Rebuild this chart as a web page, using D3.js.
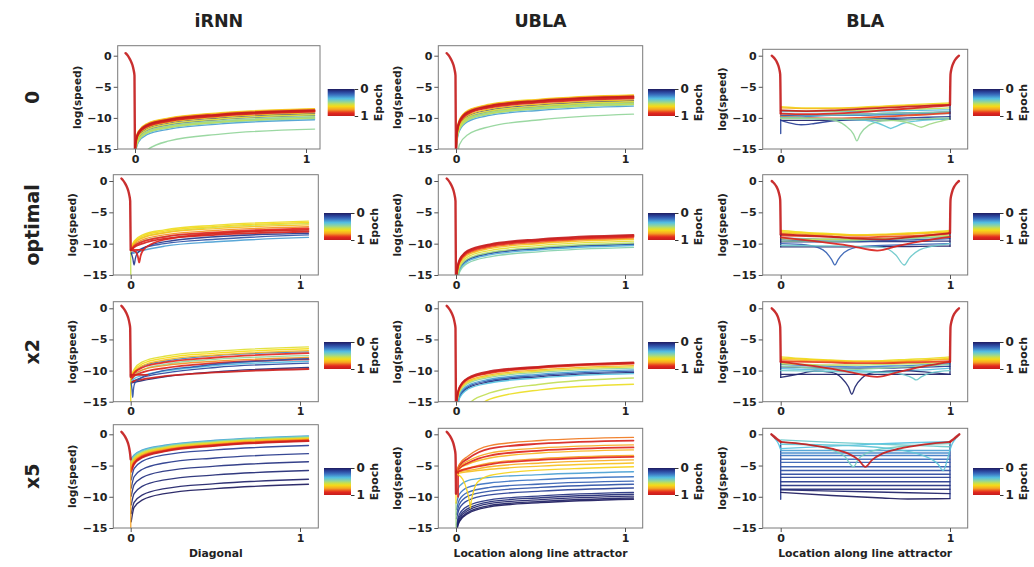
<!DOCTYPE html>
<html><head><meta charset="utf-8">
<script src="https://cdn.jsdelivr.net/npm/d3@7"></script>
<style>
body{margin:0;background:#fff}
text{font-family:"DejaVu Sans",Verdana,sans-serif;font-weight:bold;fill:#222}
</style>
</head><body><svg id="c" width="1034" height="567"></svg>
<script>
// ---------------- labels ----------------
const colTitles = ["iRNN", "UBLA", "BLA"];
const rowLabels = ["0", "optimal", "x2", "x5"];
const xTitles = ["Diagonal", "Location along line attractor", "Location along line attractor"];
const yTitle = "log(speed)";
const xTickVals = [0, 1];
const yTickVals = [0, -5, -10, -15];
const cbTickVals = [0, 1];
const cbTitle = "Epoch";

// colormap (epoch 0 -> 1)
const cmapPos = [0, 0.1, 0.22, 0.36, 0.48, 0.56, 0.64, 0.76, 0.88, 1];
const cmapCol = ["#1d1b5e", "#283f96", "#3b72c2", "#55c2e2", "#93d59a", "#c9df4c", "#f6dc17", "#f6a323", "#e5281e", "#c41d1d"];

// ---------------- data ----------------
// x grid for rising curves (iRNN, UBLA); null = not drawn
const riseX = [0.0005, 0.003, 0.02, 0.07, 0.2, 0.5, 1.05];
// x grid for BLA curves
const blaX = [0, 0.15, 0.3, 0.45, 0.6, 0.75, 0.9, 1];

// shared heads (fast flow to the attractor)
const riseHead = [[-0.055, 0.4], [-0.045, 0.1], [-0.035, -0.3], [-0.025, -0.8], [-0.015, -1.5], [-0.008, -2.3], [-0.003, -3.2]];
const blaHead = [[-0.053, 0], [-0.045, -0.2], [-0.035, -0.5], [-0.025, -0.9], [-0.015, -1.5], [-0.008, -2.2], [-0.003, -3.0]];
const blaHeadX5 = [[-0.055, 0], [-0.04, -0.35], [-0.025, -0.7], [-0.01, -1.0]];
const headEpoch = 1.0;

// ---- iRNN, 0
const irnn0 = [
  [0.48, null, null, -17, -15.2, -13.7, -12.6, -11.8],
  [0.10, -17, -14.6, -12.9, -11.7, -10.8, -9.97, -9.3],
  [0.20, -17, -14.9, -13.2, -12.0, -11.1, -10.27, -9.6],
  [0.30, -17, -15.6, -13.9, -12.7, -11.8, -10.97, -10.3],
  [0.38, -17, -15.2, -13.5, -12.3, -11.4, -10.57, -9.9],
  [0.45, -17, -15.4, -13.7, -12.5, -11.6, -10.77, -10.1],
  [0.50, -17, -15.1, -13.4, -12.2, -11.3, -10.47, -9.8],
  [0.55, -17, -15.3, -13.6, -12.4, -11.5, -10.67, -10.0],
  [0.60, -17, -14.8, -13.1, -11.9, -11.0, -10.17, -9.5],
  [0.65, -17, -13.8, -12.1, -10.9, -10.0, -9.17, -8.5],
  [0.70, -17, -14.5, -12.8, -11.6, -10.7, -9.87, -9.2],
  [0.76, -17, -13.9, -12.2, -11.0, -10.1, -9.27, -8.6],
  [0.84, -17, -14.1, -12.4, -11.2, -10.3, -9.47, -8.8],
  [0.90, -17, -14.2, -12.5, -11.3, -10.4, -9.57, -8.9],
  [0.95, -17, -14.3, -12.6, -11.4, -10.5, -9.67, -9.0],
  [1.00, -17, -14.05, -12.35, -11.15, -10.25, -9.42, -8.75]
];
const irnn0Extra = [];

// ---- UBLA, 0
const ubla0 = [
  [0.48, null, -18, -14.3, -12.7, -11.4, -10.3, -9.4],
  [0.10, -17, -13.5, -11.2, -9.7, -8.7, -7.87, -7.2],
  [0.20, -17, -13.8, -11.5, -10.0, -9.0, -8.17, -7.5],
  [0.30, -17, -14.4, -12.1, -10.6, -9.6, -8.77, -8.1],
  [0.38, -17, -14.0, -11.7, -10.2, -9.2, -8.37, -7.7],
  [0.45, -17, -14.2, -11.9, -10.4, -9.4, -8.57, -7.9],
  [0.50, -17, -13.9, -11.6, -10.1, -9.1, -8.27, -7.6],
  [0.55, -17, -14.1, -11.8, -10.3, -9.3, -8.47, -7.8],
  [0.60, -17, -13.7, -11.4, -9.9, -8.9, -8.07, -7.4],
  [0.65, -17, -12.6, -10.3, -8.8, -7.8, -6.97, -6.3],
  [0.70, -17, -13.4, -11.1, -9.6, -8.6, -7.77, -7.1],
  [0.76, -17, -12.7, -10.4, -8.9, -7.9, -7.07, -6.4],
  [0.84, -17, -12.9, -10.6, -9.1, -8.1, -7.27, -6.6],
  [0.90, -17, -13.0, -10.7, -9.2, -8.2, -7.37, -6.7],
  [0.95, -17, -13.15, -10.85, -9.35, -8.35, -7.52, -6.85],
  [1.00, -17, -12.85, -10.55, -9.05, -8.05, -7.22, -6.55]
];
const ubla0Extra = [];

// ---- BLA, 0
const bla0 = [
  [0.02, -10.4, -10.4, -10.35, -10.3, -10.3, -10.25, -10.2, -10.2],
  [0.15, -9.6, -9.6, -9.5, -9.4, -9.3, -9.2, -9.1, -9.0],
  [0.25, -9.9, -9.8, -9.6, -9.6, -9.5, -9.4, -9.3, -9.3],
  [0.35, -9.0, -9.0, -9.0, -8.95, -8.9, -8.8, -8.75, -8.7],
  [0.45, -9.4, -9.5, -9.5, -9.4, -9.3, -9.2, -9.1, -9.0],
  [0.55, -8.8, -8.9, -8.9, -8.8, -8.7, -8.6, -8.5, -8.4],
  [0.63, -8.2, -8.4, -8.4, -8.3, -8.1, -7.9, -7.7, -7.6],
  [0.72, -8.4, -8.5, -8.5, -8.4, -8.2, -8.0, -7.9, -7.8],
  [0.85, -9.8, -10.0, -10.1, -10.0, -9.8, -9.6, -9.4, -9.2],
  [0.92, -9.3, -9.4, -9.3, -9.1, -8.8, -8.5, -8.2, -8.0],
  [1.00, -8.8, -8.9, -8.8, -8.6, -8.4, -8.2, -8.0, -7.9]
];
const bla0Extra = [
  [0.12, [[0, -10], [0, -12.5]]],
  [0.10, [[0, -10.4], [0.05, -10.8], [0.12, -11.1], [0.2, -10.9], [0.3, -10.5], [0.5, -10.2], [0.75, -10.0], [1, -9.8]]],
  [0.48, [[0, -9.9], [0.15, -10.0], [0.3, -10.3], [0.38, -11.2], [0.43, -12.6], [0.45, -13.7], [0.47, -12.6], [0.52, -11.2], [0.6, -10.5], [0.75, -10.3], [0.9, -10.1], [1, -10.0]]],
  [0.38, [[0, -10.0], [0.3, -10.2], [0.5, -10.4], [0.58, -10.9], [0.63, -11.5], [0.65, -11.7], [0.67, -11.5], [0.72, -10.9], [0.8, -10.5], [1, -10.2]]],
  [0.50, [[0, -10.1], [0.5, -10.2], [0.7, -10.5], [0.78, -11.0], [0.83, -11.5], [0.88, -11.0], [0.95, -10.5], [1, -10.2]]],
  [0.02, [[1, -7.9], [1, -10.2]]]
];

// ---- iRNN, optimal
const irnnOpt = [
  [0.15, null, -11.4, -11.3, -10.7, -10.0, -9.3, -8.6],
  [0.30, null, -11.6, -11.5, -11.1, -10.4, -9.7, -9.0],
  [0.45, null, -11.0, -10.4, -9.6, -8.9, -8.3, -7.8],
  [0.56, null, -10.8, -9.9, -9.0, -8.2, -7.4, -6.8],
  [0.62, null, -10.6, -9.6, -8.6, -7.8, -7.05, -6.4],
  [0.65, null, -10.7, -9.8, -8.8, -8.0, -7.25, -6.6],
  [0.70, null, -10.8, -10.0, -9.1, -8.3, -7.6, -7.0],
  [0.78, null, -10.9, -10.2, -9.4, -8.6, -7.9, -7.3],
  [0.88, null, -11.0, -10.4, -9.7, -8.9, -8.2, -7.55],
  [0.95, null, -11.1, -10.6, -10.0, -9.2, -8.6, -8.1]
];
const irnnOptExtra = [
  [0.55, [[0, -11], [0.0005, -17]]],
  [0.08, [[0.003, -11.5], [0.012, -12.3], [0.02, -13.4], [0.028, -12.3], [0.04, -11.5], [0.1, -10.4], [0.25, -9.5], [0.5, -8.9], [1.05, -8.35]]],
  [0.90, [[0, -11.0], [0.07, -11.0]]],
  [0.92, [[0.002, -11.0], [0.03, -11.3], [0.042, -12.0], [0.05, -13.0], [0.058, -12.0], [0.075, -11.0], [0.12, -10.1], [0.25, -9.1], [0.5, -8.4], [1.05, -7.8]]]
];

// ---- UBLA, optimal
const ublaOpt = [
  [0.08, -17, -16.4, -14.1, -12.6, -11.6, -10.77, -10.1],
  [0.20, -17, -16.3, -14.0, -12.5, -11.5, -10.67, -10.0],
  [0.32, -17, -16.6, -14.3, -12.8, -11.8, -10.97, -10.3],
  [0.45, -17, -16.9, -14.6, -13.1, -12.1, -11.27, -10.6],
  [0.52, -17, -16.2, -13.9, -12.4, -11.4, -10.57, -9.9],
  [0.60, -17, -15.9, -13.6, -12.1, -11.1, -10.27, -9.6],
  [0.70, -17, -15.6, -13.3, -11.8, -10.8, -9.97, -9.3],
  [0.80, -17, -15.4, -13.1, -11.6, -10.6, -9.77, -9.1],
  [0.88, -17, -15.2, -12.9, -11.4, -10.4, -9.57, -8.9],
  [0.94, -17, -15.05, -12.75, -11.25, -10.25, -9.42, -8.75],
  [1.00, -17, -14.9, -12.6, -11.1, -10.1, -9.27, -8.6]
];
const ublaOptExtra = [];

// ---- BLA, optimal
const blaOpt = [
  [0.02, -10.5, -10.5, -10.5, -10.5, -10.45, -10.45, -10.4, -10.4],
  [0.06, -9.7, -9.7, -9.7, -9.7, -9.65, -9.65, -9.6, -9.6],
  [0.15, -9.4, -9.5, -9.6, -9.6, -9.5, -9.4, -9.3, -9.2],
  [0.28, -9.1, -9.2, -9.3, -9.3, -9.2, -9.1, -9.0, -8.9],
  [0.48, -9.6, -9.6, -9.6, -9.5, -9.3, -9.2, -9.0, -8.9],
  [0.55, -9.2, -9.3, -9.3, -9.3, -9.2, -9.0, -8.8, -8.7],
  [0.62, -7.9, -8.2, -8.4, -8.6, -8.5, -8.3, -8.1, -7.9],
  [0.65, -8.1, -8.3, -8.5, -8.6, -8.6, -8.4, -8.2, -8.1],
  [0.72, -8.3, -8.5, -8.6, -8.7, -8.6, -8.5, -8.3, -8.2],
  [0.85, -8.7, -8.8, -8.9, -9.0, -8.9, -8.8, -8.6, -8.4],
  [1.00, -8.5, -8.7, -8.9, -9.2, -9.3, -9.0, -8.6, -8.3]
];
const blaOptExtra = [
  [0.02, [[0, -8.5], [0, -10.5]]],
  [0.02, [[1, -8.3], [1, -10.4]]],
  [0.18, [[0, -10.0], [0.15, -10.2], [0.25, -11.0], [0.3, -12.5], [0.32, -13.4], [0.34, -12.5], [0.4, -11.0], [0.5, -10.4], [0.7, -10.2], [1, -10.0]]],
  [0.40, [[0, -10.3], [0.4, -10.4], [0.6, -10.6], [0.68, -11.8], [0.73, -13.4], [0.76, -12.3], [0.82, -11.0], [0.9, -10.4], [1, -10.0]]],
  [0.92, [[0, -9.0], [0.2, -9.6], [0.4, -10.3], [0.57, -11.1], [0.7, -10.3], [0.85, -9.5], [1, -8.9]]]
];

// ---- iRNN, x2
const irnnX2 = [
  [0.05, null, -12.0, -11.9, -11.6, -11.0, -10.2, -9.5],
  [0.12, null, -11.8, -11.6, -11.1, -10.4, -9.5, -8.8],
  [0.25, null, -11.5, -10.5, -9.3, -8.5, -7.6, -7.0],
  [0.35, null, -11.7, -11.3, -10.8, -10.1, -9.2, -8.5],
  [0.48, null, -11.3, -10.8, -9.9, -9.0, -8.2, -7.6],
  [0.60, null, -10.8, -9.8, -8.6, -7.7, -6.9, -6.2],
  [0.64, null, -10.9, -10.0, -8.9, -8.0, -7.2, -6.5],
  [0.72, null, -11.0, -10.2, -9.2, -8.3, -7.5, -6.8],
  [0.78, null, -11.2, -10.6, -9.9, -9.2, -8.5, -7.9],
  [0.88, null, -11.1, -10.4, -9.5, -8.7, -7.9, -7.2],
  [0.92, null, -11.4, -10.9, -10.3, -9.6, -8.8, -8.2],
  [0.97, null, -11.9, -11.7, -11.4, -10.9, -10.3, -9.75]
];
const irnnX2Extra = [
  [0.63, [[0, -11], [0.0005, -17]]],
  [0.15, [[0.003, -12], [0.008, -13.1], [0.012, -14.3], [0.016, -13.1], [0.025, -12], [0.06, -11.2], [0.15, -10.3], [0.4, -9.3], [1.05, -8.1]]],
  [0.95, [[0, -10.7], [0.1, -10.7]]]
];

// ---- UBLA, x2
const ublaX2 = [
  [0.55, null, null, -18, -15.5, -13.6, -12.2, -11.2],
  [0.62, null, null, null, -17, -14.6, -13.1, -12.2],
  [0.05, -17, -16.6, -14.3, -12.8, -11.8, -10.97, -10.3],
  [0.15, -17, -16.4, -14.1, -12.6, -11.6, -10.77, -10.1],
  [0.30, -17, -16.2, -13.9, -12.4, -11.4, -10.57, -9.9],
  [0.36, -17, -16.8, -14.5, -13.0, -12.0, -11.17, -10.5],
  [0.48, -17, -15.9, -13.6, -12.1, -11.1, -10.27, -9.6],
  [0.60, -17, -15.7, -13.4, -11.9, -10.9, -10.07, -9.4],
  [0.72, -17, -15.5, -13.2, -11.7, -10.7, -9.87, -9.2],
  [0.85, -17, -15.2, -12.9, -11.4, -10.4, -9.57, -8.9],
  [0.93, -17, -15.1, -12.8, -11.3, -10.3, -9.47, -8.8],
  [1.00, -17, -15.0, -12.7, -11.2, -10.1, -9.37, -8.7]
];
const ublaX2Extra = [];

// ---- BLA, x2
const blaX2 = [
  [0.02, -10.6, -10.6, -10.6, -10.6, -10.6, -10.6, -10.6, -10.6],
  [0.10, -9.4, -9.5, -9.6, -9.6, -9.6, -9.5, -9.4, -9.3],
  [0.25, -9.0, -9.2, -9.3, -9.4, -9.3, -9.2, -9.0, -8.9],
  [0.35, -9.7, -9.8, -9.9, -10.0, -10.2, -10.0, -9.8, -9.6],
  [0.47, -9.3, -9.5, -9.7, -9.8, -9.6, -9.4, -9.2, -9.0],
  [0.55, -8.9, -9.0, -9.1, -9.1, -9.0, -8.9, -8.8, -8.6],
  [0.62, -7.8, -8.1, -8.3, -8.5, -8.4, -8.2, -8.0, -7.8],
  [0.66, -8.0, -8.2, -8.4, -8.5, -8.5, -8.4, -8.2, -8.0],
  [0.74, -8.2, -8.4, -8.5, -8.6, -8.6, -8.5, -8.3, -8.2],
  [0.86, -8.5, -8.6, -8.7, -8.8, -8.8, -8.7, -8.6, -8.5]
];
const blaX2Extra = [
  [0.03, [[0, -8.6], [0, -11.1]]],
  [0.03, [[1, -8.6], [1, -10.6]]],
  [0.03, [[0, -11.1], [0.1, -10.6], [0.2, -10.1], [0.3, -10.3], [0.36, -11.2], [0.4, -12.6], [0.42, -13.8], [0.44, -12.6], [0.48, -11.2], [0.55, -10.3], [0.7, -10.0], [0.85, -10.2], [1, -10.6]]],
  [0.40, [[0, -10.0], [0.4, -10.2], [0.65, -10.3], [0.73, -10.7], [0.78, -11.2], [0.8, -11.5], [0.83, -11.0], [0.9, -10.3], [1, -10.0]]],
  [0.95, [[0, -8.6], [0.2, -9.3], [0.4, -10.2], [0.57, -11.0], [0.7, -10.2], [0.85, -9.3], [1, -8.6]]]
];

// ---- iRNN, x5
const irnnX5 = [
  [0.00, null, -14.0, -11.7, -10.5, -9.5, -8.7, -8.0],
  [0.02, null, -12.7, -10.9, -9.7, -8.7, -7.9, -7.2],
  [0.04, null, -11.3, -9.5, -8.3, -7.3, -6.5, -5.8],
  [0.06, null, -9.9, -8.1, -6.9, -5.9, -5.1, -4.4],
  [0.08, null, -8.6, -6.8, -5.6, -4.6, -3.8, -3.1],
  [0.10, null, -7.3, -5.5, -4.3, -3.3, -2.5, -1.8],
  [0.30, null, -3.9, -3.3, -2.5, -1.75, -0.95, -0.25],
  [0.38, null, -4.13, -3.47, -2.63, -1.86, -1.05, -0.34],
  [0.46, null, -4.37, -3.63, -2.77, -1.97, -1.15, -0.44],
  [0.54, null, -4.6, -3.8, -2.9, -2.08, -1.25, -0.53],
  [0.61, null, -4.83, -3.97, -3.03, -2.19, -1.35, -0.63],
  [0.68, null, -5.07, -4.13, -3.17, -2.31, -1.45, -0.72],
  [0.75, null, -5.3, -4.3, -3.3, -2.42, -1.55, -0.82],
  [0.82, null, -5.53, -4.47, -3.43, -2.53, -1.65, -0.91],
  [0.90, null, -5.77, -4.63, -3.57, -2.64, -1.75, -1.01],
  [0.97, null, -6.0, -4.8, -3.7, -2.75, -1.85, -1.1]
];
const irnnX5Extra = [
  [0.76, [[0, -4], [0.0005, -17]]]
];

// ---- UBLA, x5
const ublaX5 = [
  [0.00, -17, -15.8, -14.0, -12.7, -11.6, -10.95, -10.4],
  [0.01, -17, -15.6, -13.8, -12.5, -11.4, -10.75, -10.2],
  [0.02, -17, -15.3, -13.5, -12.2, -11.1, -10.45, -9.9],
  [0.04, -17, -15.0, -13.2, -11.9, -10.8, -10.15, -9.6],
  [0.06, null, -14.5, -12.8, -11.5, -10.5, -9.85, -9.3],
  [0.10, null, -13.5, -11.9, -10.6, -9.7, -9.1, -8.6],
  [0.14, null, -12.8, -11.2, -9.9, -9.1, -8.5, -8.0],
  [0.18, null, -12.0, -10.5, -9.3, -8.5, -7.95, -7.5],
  [0.22, null, -11.0, -9.6, -8.5, -7.8, -7.25, -6.8],
  [0.30, null, -9.5, -8.3, -7.4, -6.9, -6.45, -6.0],
  [0.70, null, -6.3, -6.2, -6.0, -5.6, -5.1, -4.6],
  [0.74, null, -6.2, -6.0, -5.8, -5.2, -4.6, -4.1],
  [0.76, null, -6.1, -5.8, -5.4, -4.6, -3.9, -3.4],
  [0.90, null, -6.1, -5.9, -5.5, -4.8, -4.1, -3.6],
  [0.72, null, -6.0, -5.5, -4.8, -3.8, -3.0, -2.5],
  [0.90, null, -6.0, -5.4, -4.6, -3.4, -2.6, -2.1],
  [0.75, null, -6.0, -5.2, -4.3, -3.0, -2.2, -1.7],
  [0.93, null, -6.0, -5.0, -3.9, -2.3, -1.5, -1.0],
  [0.80, null, -6.0, -4.8, -3.5, -1.8, -1.0, -0.5]
];
const ublaX5Extra = [
  [0.50, [[0, -11], [0.0005, -17]]],
  [0.64, [[0, -9.5], [0, -11]]],
  [0.92, [[0.012, -6], [0.012, -10]]],
  [0.66, [[0.01, -6.4], [0.04, -7.2], [0.065, -9.0], [0.08, -10.8], [0.085, -11.8], [0.09, -10.8], [0.105, -9.0], [0.13, -7.6], [0.2, -6.6], [0.4, -5.9], [0.7, -5.5], [1.05, -5.2]]]
];

// ---- BLA, x5
const blaX5 = [];
const blaX5Extra = [
  [0.08, [[0, -1.2], [0, -10.4]]],
  [0.08, [[1, -1.2], [1, -10.2]]],
  [0.00, [[0, -9.3], [0.3, -9.8], [0.6, -10.2], [0.75, -10.35], [1, -10.3]]],
  [0.02, [[0, -8.9], [0.5, -9.2], [1, -9.5]]],
  [0.04, [[0, -8.8], [1, -8.8]]],
  [0.06, [[0, -8.2], [1, -8.2]]],
  [0.08, [[0, -7.6], [1, -7.6]]],
  [0.10, [[0, -6.9], [1, -6.9]]],
  [0.12, [[0, -6.4], [1, -6.4]]],
  [0.14, [[0, -5.8], [1, -5.8]]],
  [0.16, [[0, -5.2], [1, -5.2]]],
  [0.18, [[0, -4.5], [1, -4.5]]],
  [0.20, [[0, -4.0], [1, -4.0]]],
  [0.23, [[0, -3.4], [1, -3.4]]],
  [0.26, [[0, -3.0], [1, -3.0]]],
  [0.30, [[0, -2.6], [1, -2.6]]],
  [0.36, [[-0.055, 0], [-0.03, -0.8], [-0.01, -1.7], [0, -2.5]]],
  [0.36, [[1, -2.5], [1.01, -1.7], [1.03, -0.8], [1.055, 0]]],
  [0.40, [[0, -0.9], [0.3, -1.3], [0.6, -1.6], [0.9, -1.9], [1, -2.0]]],
  [0.36, [[0, -2.3], [0.3, -1.9], [0.6, -1.5], [1, -1.2]]],
  [0.42, [[0, -1.3], [0.2, -1.8], [0.3, -2.5], [0.38, -3.6], [0.43, -5.2], [0.46, -3.9], [0.55, -2.6], [0.7, -2.0], [1, -1.5]]],
  [0.38, [[0, -1.6], [0.4, -1.8], [0.7, -2.5], [0.85, -3.5], [0.93, -4.8], [0.96, -5.8], [0.98, -4.5], [1, -2.5]]],
  [1.00, [[0, -1.2], [0.15, -1.6], [0.3, -2.3], [0.4, -3.1], [0.46, -4.1], [0.5, -5.2], [0.54, -4.1], [0.6, -3.1], [0.7, -2.3], [0.85, -1.6], [1, -1.2]]]
];

// head bottoms (where the fast part meets the slow manifold)
const riseHeadBottom = [[-17, -17], [-11, -17], [-11, -17], [-4, -9.5]]; // [row][iRNN, UBLA]
const blaHeadBottom = [[-9.3, -7.9], [-8.5, -8.3], [-8.6, -8.6], [-1.2, -1.2]]; // [row][left, right]

const panelCurves = [
  [irnn0, ubla0, bla0],
  [irnnOpt, ublaOpt, blaOpt],
  [irnnX2, ublaX2, blaX2],
  [irnnX5, ublaX5, blaX5]
];
const panelExtras = [
  [irnn0Extra, ubla0Extra, bla0Extra],
  [irnnOptExtra, ublaOptExtra, blaOptExtra],
  [irnnX2Extra, ublaX2Extra, blaX2Extra],
  [irnnX5Extra, ublaX5Extra, blaX5Extra]
];

// ---------------- layout ----------------
const boxL = [[117.7, 113.3, 113.3, 113.3], [438.3, 438.3, 438.3, 438.3], [762.7, 762.7, 762.7, 762.7]];
const boxR = [[320, 318.3, 318.3, 318.3], [642.7, 642.7, 642.7, 642.7], [967.7, 967.7, 967.7, 967.7]];
const x0Pos = [[135, 130.7, 130.7, 130.7], [456, 456, 456, 456], [780.7, 780.7, 780.7, 780.7]];
const x1Pos = [[306, 300, 300, 300], [625, 625, 625, 625], [950, 950, 950, 950]];
const boxT = [[45.7, 174.7, 301.7, 424.7], [45.7, 174.7, 301.7, 428.3], [49.3, 174.7, 301.7, 428.3]];
const boxB = [149, 275, 401.7, 528];
const zeroY = [55.7, 181, 308.3, 434.3];
const cbX = [[327.7, 324, 324, 324], [648, 648, 648, 648], [973, 973, 973, 973]];
const cbY = [89, 213, 342, 468];
const cbW = 27, cbH = 27;

// ---------------- drawing ----------------
const svg = d3.select("#c");
const defs = svg.append("defs");
const cmap = d3.scaleLinear().domain(cmapPos).range(cmapCol).interpolate(d3.interpolateRgb).clamp(true);

const grad = defs.append("linearGradient").attr("id", "cbgrad").attr("x1", 0).attr("x2", 0).attr("y1", 0).attr("y2", 1);
d3.range(0, 1.0001, 0.05).forEach(t => grad.append("stop").attr("offset", t).attr("stop-color", cmap(t)));

const fmt = v => v < 0 ? "\u2212" + (-v) : String(v);

for (let r = 0; r < 4; r++) {
  for (let c = 0; c < 3; c++) {
    const L = boxL[c][r], R = boxR[c][r], T = boxT[c][r], B = boxB[r];
    const x = d3.scaleLinear().domain([0, 1]).range([x0Pos[c][r], x1Pos[c][r]]);
    const y = d3.scaleLinear().domain([-15, 0]).range([B, zeroY[r]]);
    const g = svg.append("g");
    const clipId = "clip" + r + c;
    defs.append("clipPath").attr("id", clipId).append("rect")
      .attr("x", L).attr("y", T).attr("width", R - L).attr("height", B - T);
    const lg = g.append("g").attr("clip-path", "url(#" + clipId + ")");
    const lineM = d3.line().x(d => x(d[0])).y(d => y(d[1])).curve(d3.curveMonotoneX);
    const lineL = d3.line().x(d => x(d[0])).y(d => y(d[1]));
    const draw = (pts, e, w) => {
      const inc = pts.every((d, i) => i === 0 || d[0] > pts[i - 1][0]);
      lg.append("path").attr("d", (inc && pts.length > 2 ? lineM : lineL)(pts))
        .attr("fill", "none").attr("stroke", cmap(e)).attr("stroke-width", w)
        .attr("stroke-linejoin", "round").attr("stroke-linecap", "round").attr("stroke-opacity", 0.92);
    };
    const grid = c < 2 ? riseX : blaX;
    panelCurves[r][c].forEach(row => {
      const e = row[0];
      const pts = row.slice(1).map((v, i) => [grid[i], v]).filter(d => d[1] !== null);
      draw(pts, e, e >= 0.85 ? 1.8 : 1.35);
    });
    panelExtras[r][c].forEach(([e, pts]) => draw(pts, e, e >= 0.85 ? 1.8 : 1.35));
    // heads
    if (c < 2) {
      const bot = riseHeadBottom[r][c];
      draw(riseHead.concat([[0, bot]]), headEpoch, 2.4);
    } else {
      const hs = r === 3 ? blaHeadX5 : blaHead;
      const [bl, br] = blaHeadBottom[r];
      draw(hs.concat([[0, bl]]), headEpoch, 2.4);
      const right = [[1, br]].concat(hs.map(d => [1 - d[0], d[1]]).reverse());
      draw(right, headEpoch, 2.4);
    }
    // frame
    g.append("rect").attr("x", L).attr("y", T).attr("width", R - L).attr("height", B - T)
      .attr("fill", "none").attr("stroke", "#7a7a7a").attr("stroke-width", 1);
    // axes
    const ya = g.append("g").attr("transform", `translate(${L},0)`)
      .call(d3.axisLeft(y).tickValues(yTickVals).tickSize(4).tickPadding(2).tickFormat(fmt));
    const xa = g.append("g").attr("transform", `translate(0,${B})`)
      .call(d3.axisBottom(x).tickValues(xTickVals).tickSize(4).tickPadding(2).tickFormat(fmt));
    [ya, xa].forEach(a => {
      a.select(".domain").remove();
      a.selectAll("line").attr("stroke", "#555");
      a.selectAll("text").attr("font-size", 11).attr("font-family", null).attr("fill", "#222");
    });
    // y title
    g.append("text").attr("transform", `translate(${L - 37},${(T + B) / 2}) rotate(-90)`)
      .attr("text-anchor", "middle").attr("font-size", 10.5).text(yTitle);
    // colorbar
    const cx = cbX[c][r], cy = cbY[r];
    g.append("rect").attr("x", cx).attr("y", cy).attr("width", cbW).attr("height", cbH).attr("fill", "url(#cbgrad)");
    const cbs = d3.scaleLinear().domain([0, 1]).range([cy, cy + cbH]);
    const ca = g.append("g").attr("transform", `translate(${cx + cbW},0)`)
      .call(d3.axisRight(cbs).tickValues(cbTickVals).tickSize(3.5).tickPadding(2).tickFormat(fmt));
    ca.select(".domain").remove();
    ca.selectAll("line").attr("stroke", "#333");
    ca.selectAll("text").attr("font-size", 12).attr("font-family", null).attr("fill", "#222");
    g.append("text").attr("transform", `translate(${cx + cbW + 27},${cy + cbH / 2}) rotate(-90)`)
      .attr("text-anchor", "middle").attr("font-size", 11).text(cbTitle);
    // titles
    if (r === 0) {
      g.append("text").attr("x", (L + R) / 2).attr("y", 27).attr("text-anchor", "middle")
        .attr("font-size", 17.5).text(colTitles[c]);
    }
    if (r === 3) {
      g.append("text").attr("x", (L + R) / 2).attr("y", 557).attr("text-anchor", "middle")
        .attr("font-size", 10.8).text(xTitles[c]);
    }
    if (c === 0) {
      g.append("text").attr("transform", `translate(39,${(T + B) / 2}) rotate(-90)`)
        .attr("text-anchor", "middle").attr("font-size", 19).text(rowLabels[r]);
    }
  }
}
</script></body></html>
